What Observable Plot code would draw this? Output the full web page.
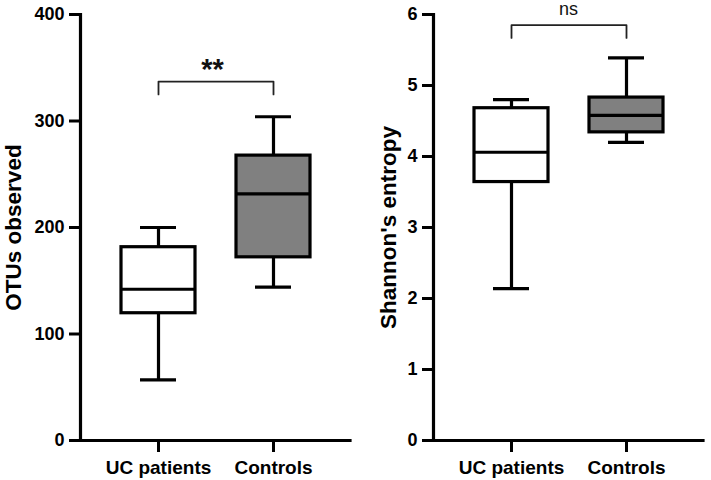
<!DOCTYPE html>
<html>
<head>
<meta charset="utf-8">
<script src="https://cdn.jsdelivr.net/npm/d3@7"></script>
<script src="https://cdn.jsdelivr.net/npm/@observablehq/plot@0.6"></script>
<style>
  html, body { margin: 0; padding: 0; background: #fff; }
  #wrap { display: flex; flex-direction: row; width: 711px; height: 480px; }
  #wrap svg { display: block; }
</style>
</head>
<body>
<div id="wrap"><div id="left"></div><div id="right"></div></div>
<script>
// Data
const categories = ["UC patients", "Controls"];
const boxFills = ["white", "#808080"];

const otuMin = [57, 144];
const otuQ1 = [119.5, 172];
const otuMedian = [142, 231.5];
const otuQ3 = [181.5, 267.5];
const otuMax = [200, 304];
const otuTicks = [0, 100, 200, 300, 400];
const otuBracket = [325, 337];
const otuSig = "**";

const shMin = [2.14, 4.2];
const shQ1 = [3.64, 4.34];
const shMedian = [4.06, 4.58];
const shQ3 = [4.68, 4.83];
const shMax = [4.8, 5.39];
const shTicks = [0, 1, 2, 3, 4, 5, 6];
const shBracket = [5.67, 5.85];
const shSig = "ns";

const FONT = "'Liberation Sans', Arial, Helvetica, sans-serif";

function panel({width, marginLeft, marginRight, mins, q1s, meds, q3s, maxs, ticks, yMax, label, labelDx, bracket, sig, sigY, sigDx, sigBold, sigSize}) {
  const rows = categories.map((c, i) => ({
    cat: c, fill: boxFills[i], min: mins[i], q1: q1s[i], med: meds[i], q3: q3s[i], max: maxs[i]
  }));
  const bracketPts = [
    {x: categories[0], y: bracket[0]},
    {x: categories[0], y: bracket[1]},
    {x: categories[1], y: bracket[1]},
    {x: categories[1], y: bracket[0]}
  ];
  return Plot.plot({
    width, height: 480,
    marginLeft, marginRight, marginTop: 14, marginBottom: 40,
    style: {fontFamily: FONT, background: "white", color: "black", overflow: "visible"},
    x: {type: "band", domain: categories, paddingInner: 0.36, paddingOuter: 0.345, axis: null},
    y: {domain: [0, yMax], axis: null},
    marks: [
      Plot.axisY({ticks, tickSize: 11, tickPadding: 5, strokeWidth: 3, fontSize: 18, fontWeight: "bold", label: null, tickFormat: d => String(d)}),
      Plot.axisX({tickSize: 12, tickPadding: 7.5, strokeWidth: 3, fontSize: 19, fontWeight: "bold", label: null}),
      Plot.ruleY([0], {strokeWidth: 3.2, strokeLinecap: "square"}),
      Plot.frame({anchor: "left", strokeWidth: 3.2}),
      Plot.ruleX(rows, {x: "cat", y1: "min", y2: "max", strokeWidth: 3.2}),
      Plot.tickY(rows, {x: "cat", y: "min", strokeWidth: 3.2, insetLeft: 19, insetRight: 19}),
      Plot.tickY(rows, {x: "cat", y: "max", strokeWidth: 3.2, insetLeft: 19, insetRight: 19}),
      Plot.barY(rows, {x: "cat", y1: "q1", y2: "q3", fill: "fill", stroke: "black", strokeWidth: 3.2}),
      Plot.tickY(rows, {x: "cat", y: "med", strokeWidth: 3.2}),
      Plot.line(bracketPts, {x: "x", y: "y", strokeWidth: 1.8, stroke: "#222"}),
      Plot.text([sig], {x: () => categories[0], y: () => sigY, dx: sigDx, text: d => d, fontSize: sigSize, fontWeight: sigBold ? "bold" : "normal", fill: "#111"}),
      Plot.text([label], {frameAnchor: "left", textAnchor: "middle", lineAnchor: "middle", dx: labelDx, rotate: -90, text: d => d, fontSize: 22.5, fontWeight: "bold", fill: "black"})
    ]
  });
}

document.getElementById("left").append(panel({
  width: 360, marginLeft: 80, marginRight: 10,
  mins: otuMin, q1s: otuQ1, meds: otuMedian, q3s: otuQ3, maxs: otuMax,
  ticks: otuTicks, yMax: 400, label: "OTUs observed", labelDx: -67,
  bracket: otuBracket, sig: otuSig, sigY: 348, sigDx: 54, sigBold: true, sigSize: 29
}));

document.getElementById("right").append(panel({
  width: 351, marginLeft: 73, marginRight: 8,
  mins: shMin, q1s: shQ1, meds: shMedian, q3s: shQ3, maxs: shMax,
  ticks: shTicks, yMax: 6, label: "Shannon's entropy", labelDx: -45,
  bracket: shBracket, sig: shSig, sigY: 6.08, sigDx: 57, sigBold: false, sigSize: 18
}));
</script>
</body>
</html>
